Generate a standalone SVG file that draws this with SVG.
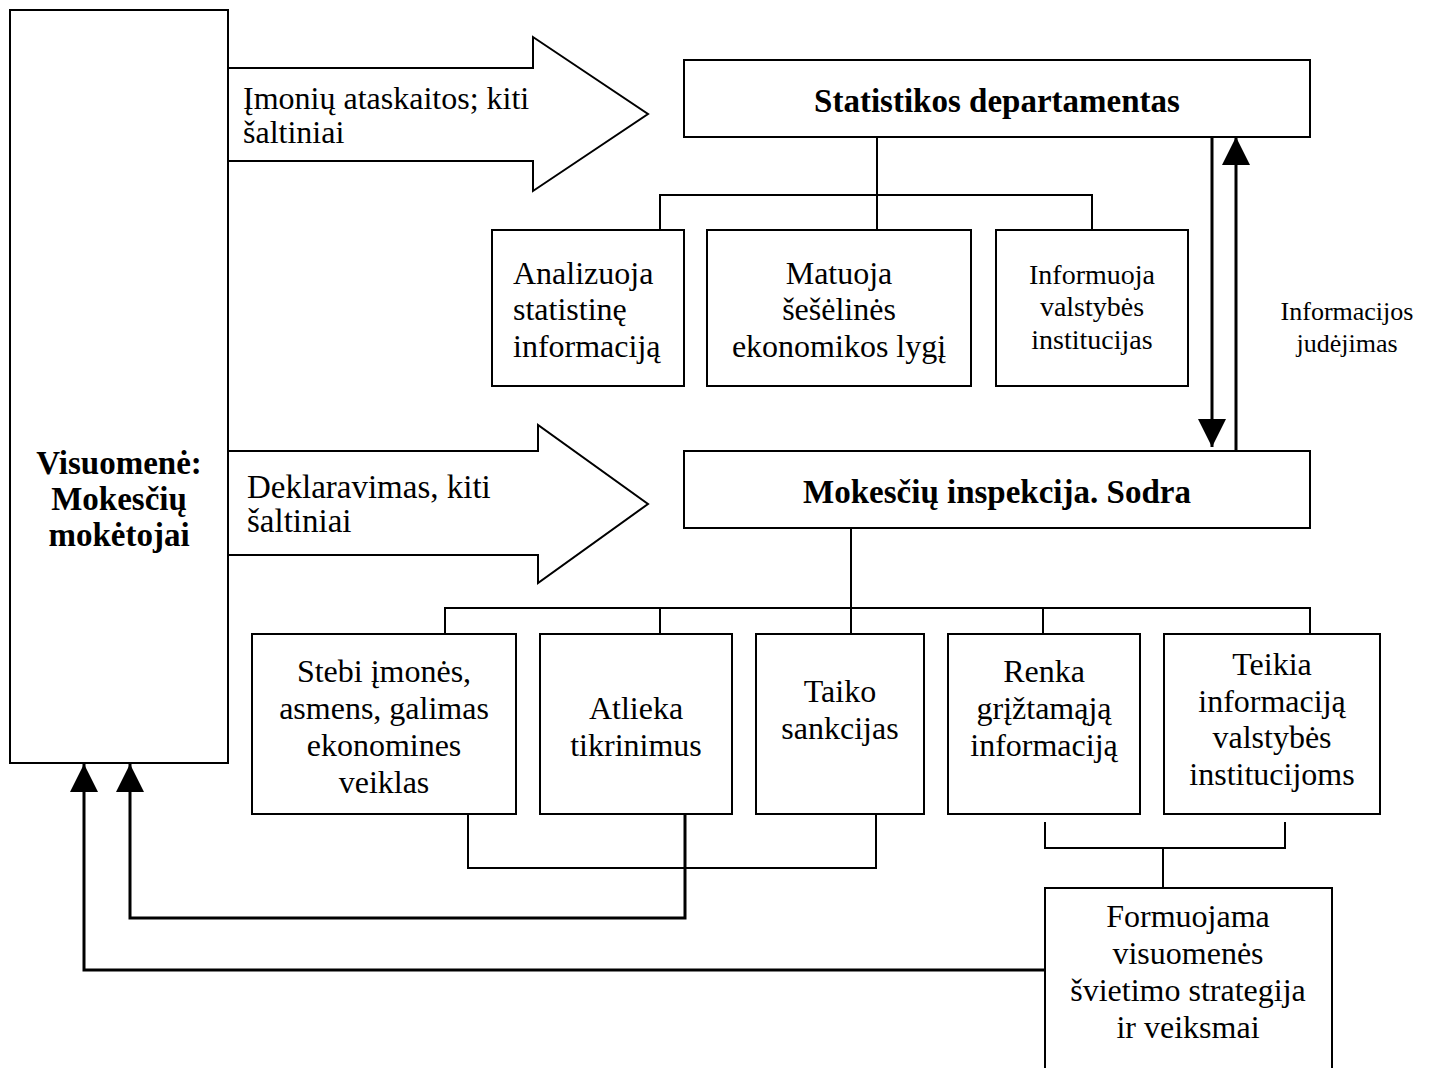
<svg xmlns="http://www.w3.org/2000/svg" width="1442" height="1068" viewBox="0 0 1442 1068">
  <style>
    .box { fill: #fff; stroke: #000; stroke-width: 2; }
    .ln { fill: none; stroke: #000; stroke-width: 2; }
    .thick { fill: none; stroke: #000; stroke-width: 3; }
    .big { fill: #fff; stroke: #000; stroke-width: 2; stroke-linejoin: miter; }
    text { font-family: "Liberation Serif", "Times New Roman", serif; font-size: 32px; fill: #000; }
    .b { font-weight: bold; font-size: 33px; }
    .c { text-anchor: middle; }
    .s28 { font-size: 28px; }
    .s26 { font-size: 26px; }
  </style>
  <defs>
    <marker id="headL" viewBox="0 0 10 10" refX="10" refY="5" markerWidth="28" markerHeight="28" markerUnits="userSpaceOnUse" orient="auto">
      <path d="M0,0 L10,5 L0,10 z" fill="#000"/>
    </marker>
  </defs>

  <!-- connectors -->
  <g id="connectors">
    <!-- block arrows from the taxpayers -->
    <polyline class="big" points="228,68 533,68 533,37 648,114 533,191 533,161 228,161"/>
    <polyline class="big" points="228,451 538,451 538,425 648,504 538,583 538,555 228,555"/>
    <!-- statistics department tree -->
    <polyline class="ln" points="877,137 877,230"/>
    <polyline class="ln" points="660,230 660,195 1092,195 1092,230"/>
    <!-- information flow between the two institutions -->
    <line class="thick" x1="1212" y1="133" x2="1212" y2="447" marker-end="url(#headL)"/>
    <line class="thick" x1="1236" y1="451" x2="1236" y2="137" marker-end="url(#headL)"/>
    <!-- tax inspection tree -->
    <polyline class="ln" points="851,528 851,634"/>
    <polyline class="ln" points="445,634 445,608 1310,608 1310,634"/>
    <line class="ln" x1="660" y1="608" x2="660" y2="634"/>
    <line class="ln" x1="1043" y1="608" x2="1043" y2="634"/>
    <!-- lower brackets -->
    <polyline class="ln" points="468,814 468,868 876,868 876,814"/>
    <polyline class="ln" points="1045,822 1045,848 1285,848 1285,822"/>
    <line class="ln" x1="1163" y1="848" x2="1163" y2="888"/>
    <!-- feedback to the taxpayers -->
    <polyline class="thick" points="685,814 685,918 130,918 130,764" marker-end="url(#headL)"/>
    <polyline class="thick" points="1045,970 84,970 84,764" marker-end="url(#headL)"/>
  </g>

  <g id="n-visuomene">
    <rect class="box" x="10" y="10" width="218" height="753"/>
    <text class="b c" x="119" y="474">Visuomenė:</text>
    <text class="b c" x="119" y="510">Mokesčių</text>
    <text class="b c" x="119" y="546">mokėtojai</text>
  </g>

  <g id="l-imoniu">
    <text x="243" y="109">Įmonių ataskaitos; kiti</text>
    <text x="243" y="143">šaltiniai</text>
  </g>

  <g id="l-deklaravimas">
    <text x="247" y="498" style="font-size:33px">Deklaravimas, kiti</text>
    <text x="247" y="532" style="font-size:33px">šaltiniai</text>
  </g>

  <g id="n-statistikos">
    <rect class="box" x="684" y="60" width="626" height="77"/>
    <text class="b c" x="997" y="112">Statistikos departamentas</text>
  </g>

  <g id="n-analizuoja">
    <rect class="box" x="492" y="230" width="192" height="156"/>
    <text x="513" y="284">Analizuoja</text>
    <text x="513" y="320">statistinę</text>
    <text x="513" y="357">informaciją</text>
  </g>

  <g id="n-matuoja">
    <rect class="box" x="707" y="230" width="264" height="156"/>
    <text class="c" x="839" y="284">Matuoja</text>
    <text class="c" x="839" y="320">šešėlinės</text>
    <text class="c" x="839" y="357">ekonomikos lygį</text>
  </g>

  <g id="n-informuoja">
    <rect class="box" x="996" y="230" width="192" height="156"/>
    <text class="c s28" x="1092" y="284">Informuoja</text>
    <text class="c s28" x="1092" y="316">valstybės</text>
    <text class="c s28" x="1092" y="349">institucijas</text>
  </g>

  <g id="l-informacijos">
    <text class="c s26" x="1347" y="320">Informacijos</text>
    <text class="c s26" x="1347" y="352">judėjimas</text>
  </g>

  <g id="n-mokesciu">
    <rect class="box" x="684" y="451" width="626" height="77"/>
    <text class="b c" x="997" y="503">Mokesčių inspekcija. Sodra</text>
  </g>

  <g id="n-stebi">
    <rect class="box" x="252" y="634" width="264" height="180"/>
    <text class="c" x="384" y="682">Stebi įmonės,</text>
    <text class="c" x="384" y="719">asmens, galimas</text>
    <text class="c" x="384" y="756">ekonomines</text>
    <text class="c" x="384" y="793">veiklas</text>
  </g>

  <g id="n-atlieka">
    <rect class="box" x="540" y="634" width="192" height="180"/>
    <text class="c" x="636" y="719">Atlieka</text>
    <text class="c" x="636" y="756">tikrinimus</text>
  </g>

  <g id="n-taiko">
    <rect class="box" x="756" y="634" width="168" height="180"/>
    <text class="c" x="840" y="702">Taiko</text>
    <text class="c" x="840" y="739">sankcijas</text>
  </g>

  <g id="n-renka">
    <rect class="box" x="948" y="634" width="192" height="180"/>
    <text class="c" x="1044" y="682">Renka</text>
    <text class="c" x="1044" y="719">grįžtamąją</text>
    <text class="c" x="1044" y="756">informaciją</text>
  </g>

  <g id="n-teikia">
    <rect class="box" x="1164" y="634" width="216" height="180"/>
    <text class="c" x="1272" y="675">Teikia</text>
    <text class="c" x="1272" y="712">informaciją</text>
    <text class="c" x="1272" y="748">valstybės</text>
    <text class="c" x="1272" y="785">institucijoms</text>
  </g>

  <g id="n-formuojama">
    <rect class="box" x="1045" y="888" width="287" height="200"/>
    <text class="c" x="1188" y="927">Formuojama</text>
    <text class="c" x="1188" y="964">visuomenės</text>
    <text class="c" x="1188" y="1001">švietimo strategija</text>
    <text class="c" x="1188" y="1038">ir veiksmai</text>
  </g>
</svg>
